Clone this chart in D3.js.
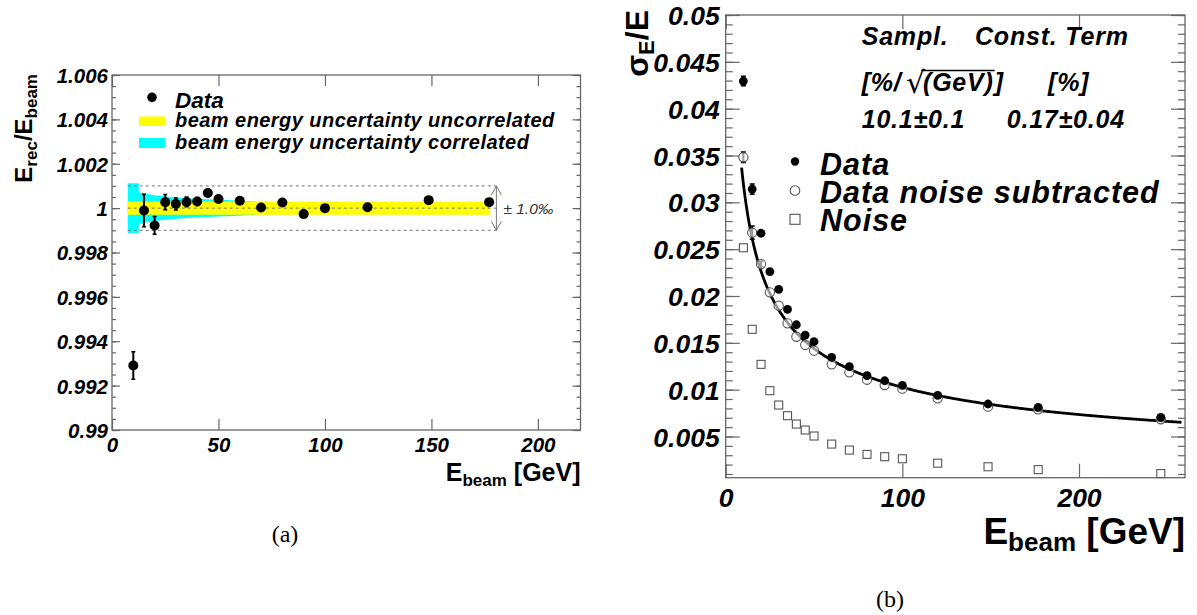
<!DOCTYPE html>
<html><head><meta charset="utf-8">
<script src="https://cdn.jsdelivr.net/npm/d3@7"></script>
<style>
html,body{margin:0;padding:0;background:#fff;}
svg{display:block;}
.sans{font-family:"Liberation Sans",Arial,Helvetica,sans-serif;}
.bi{font-family:"Liberation Sans",Arial,Helvetica,sans-serif;font-weight:bold;font-style:italic;}
.b{font-family:"Liberation Sans",Arial,Helvetica,sans-serif;font-weight:bold;}
.serif{font-family:"Liberation Serif","DejaVu Serif",serif;}
</style></head><body>
<svg id="c" width="1197" height="615"></svg>
<script>
// ---------- Data: panel (a) ----------
const energiesA = [10,15,20,25,30,35,40,45,50,60,70,80,90,100,120,148.7,177.1];
const ratioA    = [0.99291,0.99989,0.99922,1.00027,1.00019,1.00028,1.0003,1.00068,1.00041,1.00033,1.00003,1.00025,0.99973,1.0,1.00004,1.00036,1.00027];
const ratioErrA = [0.00062,0.00073,0.0004,0.00034,0.00027,0.00022,0.00018,0.00016,0.0001,0,0,0,0,0,0,0,0];
const corrBandE    = [7.4,12.6,12.6,20,30,40,50,60,68];
const corrBandHalf = [0.00112,0.00112,0.0007,0.00058,0.00048,0.00042,0.00038,0.00034,0.0003];
const uncorrBandE    = [7.4,177.6];
const uncorrBandHalf = [0.0003,0.0003];
const yTicksA = [0.99,0.992,0.994,0.996,0.998,1,1.002,1.004,1.006];
const xTicksA = [0,50,100,150,200];
const legendA = ["Data","beam energy uncertainty uncorrelated","beam energy uncertainty correlated"];

// ---------- Data: panel (b) ----------
const energiesB = [10,15,20,25,30,35,40,45,50,60,70,80,90,100,120,148.5,176.9,246.3];
const dataB  = [0.04295,0.03142,0.0267,0.0226,0.02071,0.01858,0.01693,0.01583,0.01512,0.01345,0.01245,0.01149,0.01095,0.01046,0.0094,0.00847,0.00811,0.00705];
const dataErrB = [0.0005,0.00055,0.0003,0,0,0,0,0,0,0,0,0,0,0,0,0,0,0];
const subB   = [0.03481,0.02676,0.02341,0.02039,0.01896,0.01708,0.01565,0.01477,0.01416,0.0127,0.01185,0.01106,0.01049,0.0101,0.00907,0.00818,0.0079,0.00684];
const subErrB = [0.00055,0.0007,0.0003,0,0,0,0,0,0,0,0,0,0,0,0,0,0,0];
const noiseB = [0.02515,0.01644,0.0127,0.00989,0.00836,0.00722,0.00633,0.00569,0.00505,0.00419,0.00355,0.00309,0.00284,0.00262,0.00215,0.00177,0.00146,0.00104];
const fitSampling = 0.101;   // 10.1 %/sqrt(GeV)
const fitConstant = 0.0017;  // 0.17 %
const fitRange = [9,258];
const yTicksB = [0.005,0.01,0.015,0.02,0.025,0.03,0.035,0.04,0.045,0.05];
const xTicksB = [0,100,200];
const legendB = ["Data","Data noise subtracted","Noise"];

const svg = d3.select("#c");
const frameCol = "#666";

function frameAxes(g, x, y, opt){
  const [x0,x1] = x.range(), [y0,y1] = y.range();
  g.append("g").attr("transform",`translate(${x0},0)`)
    .call(d3.axisLeft(y).tickValues(opt.yMinor).tickSize(-opt.minorLen).tickFormat(""))
    .call(s=>s.select(".domain").remove());
  g.append("g").attr("transform",`translate(${x1},0)`)
    .call(d3.axisRight(y).tickValues(opt.yMinor).tickSize(-opt.minorLen).tickFormat(""))
    .call(s=>s.select(".domain").remove());
  g.append("g").attr("transform",`translate(${x0},0)`)
    .call(d3.axisLeft(y).tickValues(opt.yTicks).tickSize(-opt.majorLen).tickPadding(opt.yPad).tickFormat(d=>String(+d.toFixed(4))))
    .call(s=>s.select(".domain").remove())
    .call(s=>s.selectAll("text").attr("class","bi").attr("font-size",opt.tickFont).attr("dy","0.36em").attr("fill","#000"));
  g.append("g").attr("transform",`translate(${x1},0)`)
    .call(d3.axisRight(y).tickValues(opt.yTicks).tickSize(-opt.majorLen).tickFormat(""))
    .call(s=>s.select(".domain").remove());
  g.append("g").attr("transform",`translate(0,${y0})`)
    .call(d3.axisBottom(x).tickValues(opt.xTicks).tickSize(-opt.xLen).tickPadding(opt.xPad).tickFormat(d=>d))
    .call(s=>s.select(".domain").remove())
    .call(s=>s.selectAll("text").attr("class","bi").attr("font-size",opt.tickFont).attr("dy","0.71em").attr("fill","#000"));
  g.append("g").attr("transform",`translate(0,${y1})`)
    .call(d3.axisTop(x).tickValues(opt.xTicks).tickSize(-opt.xLen).tickFormat(""))
    .call(s=>s.select(".domain").remove());
  g.selectAll(".tick line").attr("stroke",frameCol).attr("stroke-width",1.2);
  g.append("rect").attr("x",x0).attr("y",y1).attr("width",x1-x0).attr("height",y0-y1)
    .attr("fill","none").attr("stroke",frameCol).attr("stroke-width",1.3);
}

// ================= Panel (a) =================
const xA = d3.scaleLinear().domain([0,220]).range([112,580.5]);
const yA = d3.scaleLinear().domain([0.99,1.006]).range([430,75]);
const gA = svg.append("g");

const bandArea = d3.area().x(d=>xA(d[0])).y0(d=>yA(1-d[1])).y1(d=>yA(1+d[1]));
gA.append("path").datum(d3.zip(corrBandE,corrBandHalf)).attr("d",bandArea).attr("fill","#00ffff");
gA.append("path").datum(d3.zip(uncorrBandE,uncorrBandHalf)).attr("d",bandArea).attr("fill","#ffff00");

[1.001,1,0.999].forEach(v=>{
  gA.append("line").attr("x1",xA(7.4)).attr("x2",xA(180.6)).attr("y1",yA(v)).attr("y2",yA(v))
    .attr("stroke","#777").attr("stroke-width",1).attr("stroke-dasharray","3,3");
});
const axX = xA(180.5);
gA.append("line").attr("x1",axX).attr("x2",axX).attr("y1",yA(1.001)).attr("y2",yA(0.999)).attr("stroke","#777").attr("stroke-width",1);
gA.append("path").attr("d",`M${axX-5},${yA(1.001)+9}L${axX},${yA(1.001)}L${axX+5},${yA(1.001)+9}M${axX-5},${yA(0.999)-9}L${axX},${yA(0.999)}L${axX+5},${yA(0.999)-9}`)
  .attr("fill","none").attr("stroke","#777").attr("stroke-width",1);
const pm = gA.append("text").attr("class","sans").attr("x",axX+7).attr("y",yA(1)+6).attr("font-size",15.5).attr("fill","#333");
pm.append("tspan").text("± ");
pm.append("tspan").attr("font-style","italic").text("1.0‰");

frameAxes(gA, xA, yA, {
  yTicks: yTicksA, yMinor: d3.range(0,33).map(i=>0.99+i*0.0005),
  xTicks: xTicksA, majorLen: 8, minorLen: 4, xLen: 11, yPad: 4, xPad: 7, tickFont: 20.5
});

const ptsA = energiesA.map((e,i)=>({e, v:ratioA[i], err:ratioErrA[i]}));
gA.selectAll("line.errA").data(ptsA.filter(d=>d.err>0)).join("line").attr("class","errA")
  .attr("x1",d=>xA(d.e)).attr("x2",d=>xA(d.e)).attr("y1",d=>yA(d.v-d.err)).attr("y2",d=>yA(d.v+d.err))
  .attr("stroke","#000").attr("stroke-width",2);
gA.selectAll("path.capA").data(ptsA.filter(d=>d.err>0)).join("path").attr("class","capA")
  .attr("d",d=>`M${xA(d.e)-2},${yA(d.v-d.err)}h4M${xA(d.e)-2},${yA(d.v+d.err)}h4`)
  .attr("stroke","#000").attr("stroke-width",1.5);
gA.selectAll("circle.ptA").data(ptsA).join("circle").attr("class","ptA")
  .attr("cx",d=>xA(d.e)).attr("cy",d=>yA(d.v)).attr("r",5).attr("fill","#000");

// legend (a)
gA.append("circle").attr("cx",152).attr("cy",97.3).attr("r",4.8).attr("fill","#000");
gA.append("text").attr("class","bi").attr("x",175).attr("y",107.5).attr("font-size",22.5).text(legendA[0]);
gA.append("rect").attr("x",139).attr("y",116.5).attr("width",26).attr("height",9.5).attr("fill","#ffff00");
gA.append("text").attr("class","bi").attr("x",175).attr("y",127).attr("font-size",20).attr("letter-spacing",0.45).text(legendA[1]);
gA.append("rect").attr("x",139).attr("y",138).attr("width",26).attr("height",10).attr("fill","#00ffff");
gA.append("text").attr("class","bi").attr("x",175).attr("y",148.5).attr("font-size",20).attr("letter-spacing",0.45).text(legendA[2]);

// axis titles (a)
const xtA = gA.append("text").attr("class","b").attr("text-anchor","end").attr("x",580.5).attr("y",481).attr("font-size",25);
xtA.append("tspan").text("E");
xtA.append("tspan").attr("font-size",17).attr("dy",5).text("beam");
xtA.append("tspan").attr("dy",-5).text(" [GeV]");
const ytA = gA.append("text").attr("class","b").attr("text-anchor","end")
  .attr("transform","translate(32,74) rotate(-90)").attr("font-size",24);
ytA.append("tspan").text("E");
ytA.append("tspan").attr("font-size",17).attr("dy",5).text("rec");
ytA.append("tspan").attr("dy",-5).text("/E");
ytA.append("tspan").attr("font-size",17).attr("dy",5).text("beam");

svg.append("text").attr("class","serif").attr("x",285).attr("y",542).attr("text-anchor","middle")
  .attr("font-size",24).text("(a)");

// ================= Panel (b) =================
const xB = d3.scaleLinear().domain([0,260]).range([725.7,1185]);
const yB = d3.scaleLinear().domain([0.0006,0.05]).range([477.7,15]);
const gB = svg.append("g");

frameAxes(gB, xB, yB, {
  yTicks: yTicksB, yMinor: d3.range(1,51).map(i=>i*0.001),
  xTicks: xTicksB, majorLen: 14, minorLen: 7, xLen: 14, yPad: 6, xPad: 10, tickFont: 26.5
});

const fitPts = d3.range(fitRange[0], fitRange[1]+0.01, 0.5).map(e=>[e, Math.sqrt(fitSampling*fitSampling/e + fitConstant*fitConstant)]);
gB.append("path").datum(fitPts).attr("d",d3.line().x(d=>xB(d[0])).y(d=>yB(d[1])))
  .attr("fill","none").attr("stroke","#000").attr("stroke-width",2.8);

const sq = 8;
gB.selectAll("rect.noise").data(energiesB.map((e,i)=>({e,v:noiseB[i]}))).join("rect").attr("class","noise")
  .attr("x",d=>xB(d.e)-sq/2).attr("y",d=>yB(d.v)-sq/2).attr("width",sq).attr("height",sq)
  .attr("fill","#fff").attr("stroke","#555").attr("stroke-width",1.1);

function errBars(vals, errs, cls){
  const pts = energiesB.map((e,i)=>({e,v:vals[i],err:errs[i]})).filter(d=>d.err>0);
  gB.selectAll("line."+cls).data(pts).join("line").attr("class",cls)
    .attr("x1",d=>xB(d.e)).attr("x2",d=>xB(d.e)).attr("y1",d=>yB(d.v-d.err)).attr("y2",d=>yB(d.v+d.err))
    .attr("stroke","#000").attr("stroke-width",2);
  gB.selectAll("path."+cls).data(pts).join("path").attr("class",cls)
    .attr("d",d=>`M${xB(d.e)-2.5},${yB(d.v-d.err)}h5M${xB(d.e)-2.5},${yB(d.v+d.err)}h5`)
    .attr("stroke","#000").attr("stroke-width",1.5);
}
errBars(subB, subErrB, "errSub");
gB.selectAll("circle.sub").data(energiesB.map((e,i)=>({e,v:subB[i]}))).join("circle").attr("class","sub")
  .attr("cx",d=>xB(d.e)).attr("cy",d=>yB(d.v)).attr("r",4.6).attr("fill","#fff").attr("fill-opacity",0.6)
  .attr("stroke","#555").attr("stroke-width",1.1);
errBars(dataB, dataErrB, "errData");
gB.selectAll("circle.data").data(energiesB.map((e,i)=>({e,v:dataB[i]}))).join("circle").attr("class","data")
  .attr("cx",d=>xB(d.e)).attr("cy",d=>yB(d.v)).attr("r",4.4).attr("fill","#000");

// legend (b)
gB.append("circle").attr("cx",795).attr("cy",161.5).attr("r",4.2).attr("fill","#000");
gB.append("circle").attr("cx",795).attr("cy",190.5).attr("r",4.8).attr("fill","#fff").attr("stroke","#555").attr("stroke-width",1.1);
gB.append("rect").attr("x",795-5).attr("y",219.3-5).attr("width",10).attr("height",10).attr("fill","#fff").attr("stroke","#555").attr("stroke-width",1.1);
[175,203.3,230.5].forEach((yy,i)=>{
  gB.append("text").attr("class","bi").attr("x",820).attr("y",yy).attr("font-size",30.5).attr("letter-spacing",1.0).text(legendB[i]);
});

// fit parameter block
const fs = 25;
const ls = 0.8;
function tb(x,y,t){ return gB.append("text").attr("class","bi").attr("x",x).attr("y",y).attr("font-size",fs).attr("letter-spacing",ls).text(t); }
tb(861.7,45,"Sampl.");
tb(975,45,"Const. Term");
tb(861.7,90.7,"[%/");
gB.append("text").attr("x",906).attr("y",93).attr("font-size",30).attr("style","font-family:'DejaVu Sans',sans-serif").text("√");
const gev = tb(923,90.7,"(GeV)");
const gevW = gev.node().getComputedTextLength();
gB.append("line").attr("x1",921).attr("x2",923+gevW+1).attr("y1",70.5).attr("y2",70.5).attr("stroke","#000").attr("stroke-width",1.5);
tb(923+gevW+1,90.7,"]");
tb(1048,90.7,"[%]");
tb(861.7,128.3,"10.1±0.1");
tb(1006.7,128.3,"0.17±0.04");

// axis titles (b)
const xtB = gB.append("text").attr("class","b").attr("text-anchor","end").attr("x",1185).attr("y",544).attr("font-size",37);
xtB.append("tspan").text("E");
xtB.append("tspan").attr("font-size",26).attr("dy",7).text("beam");
xtB.append("tspan").attr("dy",-7).text(" [GeV]");
const ytB = gB.append("text").attr("class","b").attr("text-anchor","end")
  .attr("transform","translate(648,10) rotate(-90)").attr("font-size",32);
ytB.append("tspan").text("σ");
ytB.append("tspan").attr("font-size",22).attr("dy",6).text("E");
ytB.append("tspan").attr("dy",-6).text("/E");

svg.append("text").attr("class","serif").attr("x",890).attr("y",607).attr("text-anchor","middle")
  .attr("font-size",24).text("(b)");
</script>
</body></html>
